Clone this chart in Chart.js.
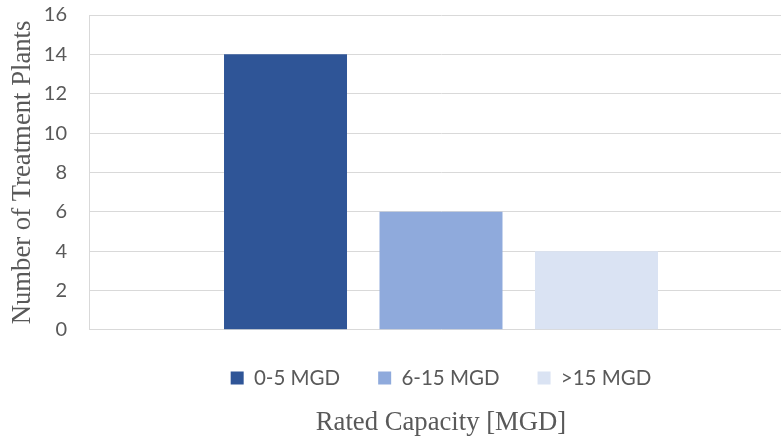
<!DOCTYPE html>
<html>
<head>
<meta charset="utf-8">
<script src="https://cdn.jsdelivr.net/npm/chart.js@4/dist/chart.umd.min.js"></script>
<style>
  html, body { margin: 0; padding: 0; background: #ffffff; overflow: hidden; }
  #wrap { width: 793px; height: 439px; }
</style>
</head>
<body>
<div id="wrap"><canvas id="chart" width="793" height="439"></canvas></div>
<script>
// Treatment plants grouped by rated capacity
const categories = [''];
const seriesNames = ['0-5 MGD', '6-15 MGD', '>15 MGD'];
const plantsSmall = [14];
const plantsMedium = [6];
const plantsLarge = [4];
const seriesColors = ['#2F5597', '#8FAADC', '#DAE3F3'];
const yMin = 0;
const yMax = 16;
const yStep = 2;

const axisTextColor = '#595959';
const gridColor = '#D9D9D9';
const serif = '"Liberation Serif", "Times New Roman", serif';
const sans = 'Lato, "Liberation Sans", sans-serif';
const titleSize = 26.7;

const seriesValues = [plantsSmall, plantsMedium, plantsLarge];

new Chart(document.getElementById('chart'), {
  type: 'bar',
  data: {
    labels: categories,
    datasets: seriesNames.map((name, i) => ({
      label: name,
      data: seriesValues[i],
      backgroundColor: seriesColors[i],
      borderWidth: 0,
      categoryPercentage: 0.6626,
      barPercentage: 0.791
    }))
  },
  options: {
    responsive: false,
    animation: false,
    devicePixelRatio: 1,
    layout: { padding: { top: 15, right: 0, bottom: 0, left: 0 } },
    plugins: {
      tooltip: { enabled: false },
      legend: {
        position: 'bottom',
        fullSize: false,
        weight: -1,          // legend sits between the plot and the axis title
        maxHeight: 70,
        labels: {
          color: axisTextColor,
          font: { family: sans, size: 20.5 },
          boxWidth: 13,
          boxHeight: 13,
          padding: 38
        }
      }
    },
    scales: {
      x: {
        grid: { display: false, drawTicks: false },
        border: { display: false },
        ticks: { display: false },
        title: {
          display: true,
          text: 'Rated Capacity [MGD]',
          color: axisTextColor,
          font: { family: serif, size: titleSize },
          padding: { top: 8.6, bottom: 0 }
        }
      },
      y: {
        min: yMin,
        max: yMax,
        ticks: {
          stepSize: yStep,
          color: axisTextColor,
          font: { family: sans, size: 20 },
          padding: 22
        },
        grid: { color: gridColor, lineWidth: 1, drawTicks: false },
        border: { display: true, color: gridColor, width: 1 },
        title: {
          display: true,
          text: 'Number of Treatment Plants',
          color: axisTextColor,
          font: { family: serif, size: titleSize },
          padding: { top: 7, bottom: 0 }
        },
        afterFit(scale) {
          // fixed axis band; only half a label of room above/below the plot
          scale.width = 89;
          scale.paddingTop = 10;
          scale.paddingBottom = 10;
        }
      }
    }
  }
});
</script>
</body>
</html>
